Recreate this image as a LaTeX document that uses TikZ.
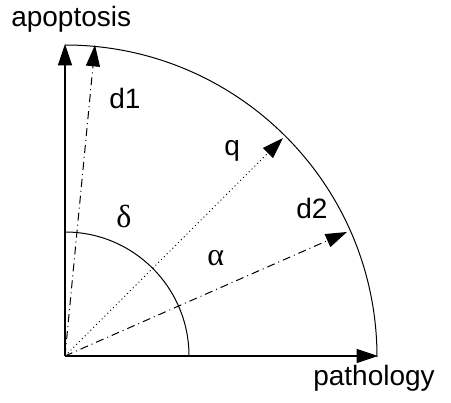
\documentclass[tikz,border=0pt]{standalone}
\usepackage{fontspec}
\setmainfont{Liberation Sans}
\newfontfamily\greekfont{Liberation Serif}
\usetikzlibrary{arrows.meta}
\begin{document}
\begin{tikzpicture}[x=0.75pt,y=-0.75pt,
  axis/.style={line width=1.1pt,-{Triangle[length=16pt,width=10.5pt]}},
  vec/.style={line width=0.75pt,-{Triangle[length=16pt,width=10.5pt]}},
  dashdot/.style={dash pattern=on 6pt off 3pt on 0.75pt off 3pt},
  dots/.style={dash pattern=on 0.75pt off 2.25pt},
  lbl/.style={anchor=base west,inner sep=0pt,font=\fontsize{21}{25}\selectfont},
  glbl/.style={anchor=base west,inner sep=0pt,font=\greekfont\fontsize{24}{28}\selectfont}]
\useasboundingbox (0,0) rectangle (451,403);
\coordinate (O) at (65,356);
\coordinate (X) at (378,356);
\coordinate (Y) at (65,44);
\coordinate (D1) at (95,45);
\coordinate (Q) at (283,138);
\coordinate (D2) at (347,232);
\coordinate (S) at (65,232);
% arcs
\draw[line width=0.75pt] (65,45) arc[start angle=90,end angle=0,radius=234pt];
\draw[line width=0.75pt] (S) arc[start angle=90,end angle=0,radius=93pt];
% axes
\draw[axis] (O) -- (X);
\draw[axis] (O) -- (Y);
% vectors
\draw[vec,dashdot] (O) -- (D1);
\draw[vec,dots] (O) -- (Q);
\draw[vec,dashdot] (O) -- (D2);
% labels
\node[lbl] (la) at (11,27) {apoptosis};
\node[lbl] (lp) at (313,386) {pathology};
\node[lbl] (ld1) at (109,109) {d1};
\node[lbl] (lq) at (224,156) {q};
\node[lbl] (ld2) at (296,219) {d2};
\node[glbl] (ldel) at (116,228) {δ};
\node[glbl] (lal) at (207,266) {α};
\end{tikzpicture}
\end{document}
